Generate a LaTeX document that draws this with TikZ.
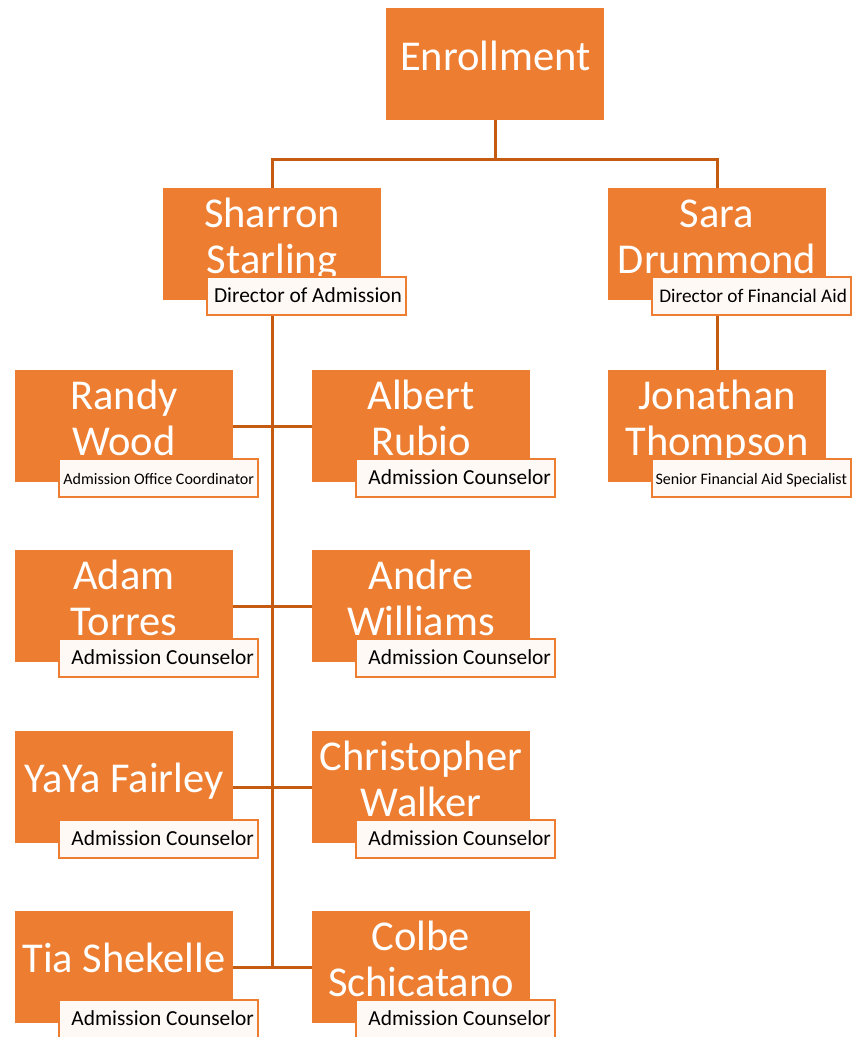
\documentclass[tikz,border=0pt]{standalone}
\usepackage{fontspec}
\setmainfont{Carlito}
\usetikzlibrary{backgrounds}
\definecolor{orfill}{HTML}{ED7D31}
\definecolor{orline}{HTML}{C55A11}
\definecolor{tfill}{HTML}{FFF9F5}
\tikzset{
  x=1pt, y=-1pt,
  namebox/.style={rectangle, fill=orfill, draw=none, minimum width=218pt, minimum height=112pt, anchor=north west, inner sep=0pt},
  nametext/.style={text=white, align=center, font=\fontsize{42.5}{46}\selectfont, anchor=base, inner sep=0pt},
  titlebox/.style={rectangle, fill=tfill, draw=orfill, line width=2.2pt, minimum width=199pt, minimum height=38pt, anchor=north west, inner sep=0pt},
  titletext/.style={text=black, anchor=base east, inner sep=0pt, font=\fontsize{21.4}{24}\selectfont},
  medtitle/.style={font=\fontsize{19.3}{22}\selectfont},
  smalltitle/.style={font=\fontsize{16}{18}\selectfont},
  conn/.style={draw=orline, line width=2.6pt},
}
\newcommand{\persontwo}[7]{%
  \node[namebox] (#1) at (#2,#3) {};
  \node[nametext] (#1n1) at ([xshift=109pt,yshift=-39pt]#1.north west) {#4};
  \node[nametext] (#1n2) at ([xshift=109pt,yshift=-85pt]#1.north west) {#5};
  \node[titlebox] (#1t) at ([xshift=43pt,yshift=-88pt]#1.north west) {};
  \node[titletext,#7] (#1tt) at ([xshift=-5pt,yshift=-26pt]#1t.north east) {#6};
}
\newcommand{\personone}[6]{%
  \node[namebox] (#1) at (#2,#3) {};
  \node[nametext] (#1n1) at ([xshift=109pt,yshift=-61pt]#1.north west) {#4};
  \node[titlebox] (#1t) at ([xshift=43pt,yshift=-88pt]#1.north west) {};
  \node[titletext,#6] (#1tt) at ([xshift=-5pt,yshift=-26pt]#1t.north east) {#5};
}
\begin{document}
\begin{tikzpicture}
\useasboundingbox (0,0) rectangle (852,1037);
\node[namebox] (enr) at (386,8) {};
\node[nametext] (enrn) at ([yshift=-62pt]enr.north) {Enrollment};
\persontwo{shar}{163}{188}{Sharron}{Starling}{Director of Admission}{}
\persontwo{sara}{608}{188}{Sara}{Drummond}{Director of Financial Aid}{medtitle}
\persontwo{jon}{608}{370}{Jonathan}{Thompson}{Senior Financial Aid Specialist}{smalltitle}
\persontwo{randy}{15}{370}{Randy}{Wood}{Admission Office Coordinator}{smalltitle}
\persontwo{albert}{312}{370}{Albert}{Rubio}{Admission Counselor}{}
\persontwo{adam}{15}{550}{Adam}{Torres}{Admission Counselor}{}
\persontwo{andre}{312}{550}{Andre}{Williams}{Admission Counselor}{}
\personone{yaya}{15}{731}{YaYa Fairley}{Admission Counselor}{}
\persontwo{chris}{312}{731}{Christopher}{Walker}{Admission Counselor}{}
\personone{tia}{15}{911}{Tia Shekelle}{Admission Counselor}{}
\persontwo{colbe}{312}{911}{Colbe}{Schicatano}{Admission Counselor}{}
\begin{scope}[on background layer]
  \coordinate (split) at ([yshift=-39pt]enr.south);
  \draw[conn] (enr.south) -- (split) -| (shar.north);
  \draw[conn] (split) -| (sara.north);
  \draw[conn] (shar.center) -- (shar.center |- tia.east);
  \draw[conn] (sara.center) -- (jon.north);
  \draw[conn] (randy.east) -- (albert.west);
  \draw[conn] (adam.east) -- (andre.west);
  \draw[conn] (yaya.east) -- (chris.west);
  \draw[conn] (tia.east) -- (colbe.west);
\end{scope}
\end{tikzpicture}
\end{document}
